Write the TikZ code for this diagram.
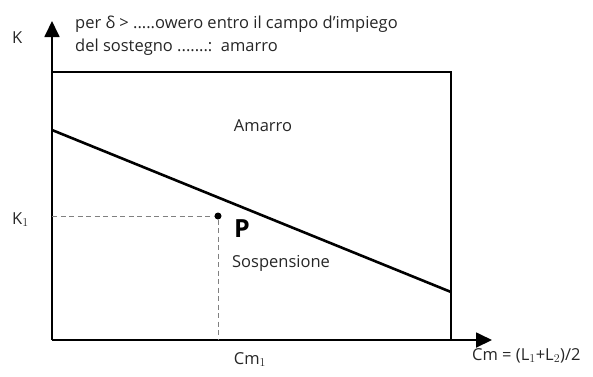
\documentclass[tikz,border=0pt]{standalone}
\usepackage{fontspec}
\setmainfont{Open Sans}
\usetikzlibrary{arrows.meta}
\begin{document}
\begin{tikzpicture}[x=1pt,y=-1pt,
  lbl/.style={font=\fontsize{16.5}{19}\selectfont, text=black!85, inner sep=0pt},
  axis/.style={line width=1.8pt, -{Triangle[length=16pt,width=15pt]}},
  frame/.style={line width=1.5pt},
  guide/.style={gray, line width=1pt, dash pattern=on 5pt off 3.5pt}]
\useasboundingbox (0,0) rectangle (593,376);
\coordinate (O) at (52,340);
\coordinate (Ytip) at (52,21);
\coordinate (Xtip) at (492,340);
\coordinate (TL) at (52,72);
\coordinate (BR) at (451,340);
\coordinate (Lstart) at (52,130);
\coordinate (Lend) at (451,292);
\coordinate (K1pt) at (52,216);
\coordinate (Cm1pt) at (218,340);
\draw[axis] (O) -- (Ytip);
\draw[axis] (O) -- (Xtip);
\draw[frame] (TL) -| (BR);
\draw[line width=2.6pt] (Lstart) -- (Lend);
\node[circle, fill=black, inner sep=0pt, minimum size=7pt] (P) at (218,216) {};
\draw[guide] (K1pt) -- (P);
\draw[guide] (P) -- (Cm1pt);
\node[lbl, anchor=base west] (K) at (12,43) {K};
\node[lbl, anchor=base west] (t1) at (75,28) {per δ > .....owero entro il campo d'impiego};
\node[lbl, anchor=base west] (t2) at (75,51) {del sostegno .......:\ \ amarro};
\node[lbl] (amarro) at (263,126) {Amarro};
\node[font=\bfseries\fontsize{25}{28}\selectfont, inner sep=0pt, anchor=base] (Plab) at (242,237) {P};
\node[lbl] (sosp) at (281,263) {Sospensione};
\node[lbl, anchor=base west] (K1) at (12,224) {K$_1$};
\node[lbl, anchor=base] (Cm1) at (250,364) {Cm$_1$};
\node[lbl, anchor=base west] (cm) at (472,360) {Cm = (L$_1$+L$_2$)/2};
\end{tikzpicture}
\end{document}
